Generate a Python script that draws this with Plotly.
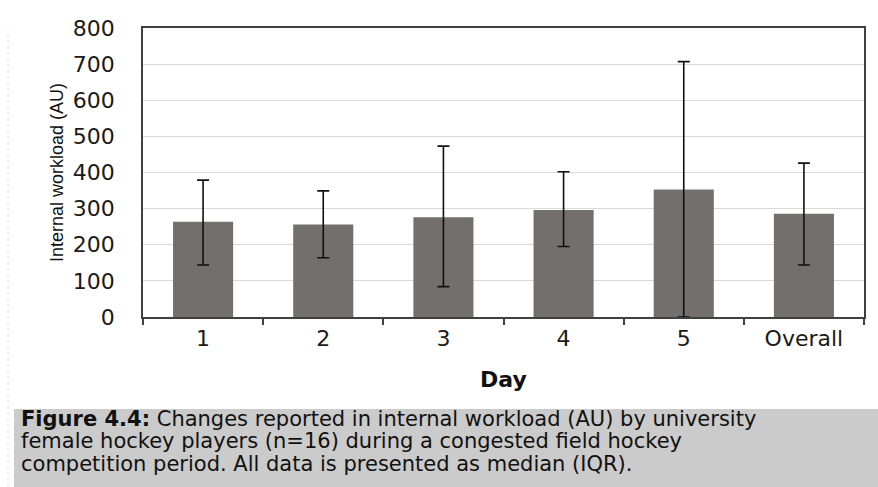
import plotly.graph_objects as go

days = ["1", "2", "3", "4", "5", "Overall"]
median = [264, 256, 276, 296, 353, 286]
q3 = [379, 349, 473, 402, 707, 426]
q1 = [144, 164, 84, 195, 0, 144]

y_ticks = [0, 100, 200, 300, 400, 500, 600, 700, 800]

caption_lines = [
    "<b>Figure 4.4:</b> Changes reported in internal workload (AU) by university",
    "female hockey players (n=16) during a congested field hockey",
    "competition period. All data is presented as median (IQR).",
]

err_plus = [h - m for h, m in zip(q3, median)]
err_minus = [m - l for m, l in zip(median, q1)]

W, H = 878, 487
L, R, T, B = 143, 14, 28, 170
pw, ph = W - L - R, H - T - B

def px_x(x):
    return (x - L) / pw

def px_y(y):
    return (H - B - y) / ph

fig = go.Figure()
fig.add_trace(go.Bar(
    x=days, y=median,
    marker=dict(color="#736f6e", line=dict(width=0)),
    error_y=dict(type="data", symmetric=False, array=err_plus, arrayminus=err_minus,
                 color="#111111", thickness=1.6, width=6),
    width=0.5,
    showlegend=False,
))

fontfam = "DejaVu Sans, Arial, sans-serif"

fig.update_layout(
    width=W, height=H,
    margin=dict(l=L, r=R, t=T, b=B, pad=0, autoexpand=False),
    paper_bgcolor="white", plot_bgcolor="white",
    xaxis=dict(
        type="category", automargin=False,
        showline=True, linecolor="#404040", linewidth=1.5, mirror=True,
        ticks="outside", ticklen=6, tickwidth=1.5, tickcolor="#404040",
        tickson="boundaries",
        tickfont=dict(family=fontfam, size=22, color="#1a1a1a"),
        ticklabelstandoff=1,
        title=dict(text="<b>Day</b>", font=dict(family=fontfam, size=22, color="#111111"), standoff=21),
        showgrid=False,
    ),
    yaxis=dict(
        range=[0, 800], tickvals=y_ticks, automargin=False,
        showline=True, linecolor="#404040", linewidth=1.5, mirror=True,
        ticks="", ticklabelstandoff=22,
        tickfont=dict(family=fontfam, size=22, color="#1a1a1a"),
        showgrid=True, gridcolor="#d9d9d9", gridwidth=1,
        zeroline=False,
        title=dict(text="Internal workload (AU)",
                   font=dict(family="Liberation Sans Narrow, Arial Narrow, Liberation Sans, sans-serif", size=18, color="#111111"),
                   standoff=5),
    ),
)

# caption box
fig.add_shape(type="rect", xref="paper", yref="paper",
              x0=px_x(14), x1=px_x(880), y0=px_y(H + 2), y1=px_y(409),
              fillcolor="#cbcbcb", line=dict(width=0), layer="below")
# faint left border line
fig.add_shape(type="line", xref="paper", yref="paper",
              x0=px_x(8), x1=px_x(8), y0=px_y(H), y1=px_y(30),
              line=dict(color="#e0e0e0", width=1, dash="dot"))

for i, line in enumerate(caption_lines):
    fig.add_annotation(xref="paper", yref="paper", x=px_x(19), y=px_y(418.5 + i * 22.5),
                       xanchor="left", yanchor="middle", showarrow=False,
                       text=line, align="left",
                       font=dict(family=fontfam, size=21, color="#111111"))

fig.write_html("out.html", config={"displayModeBar": False},
               post_script="document.body.style.margin='0';document.body.style.overflow='hidden';")
